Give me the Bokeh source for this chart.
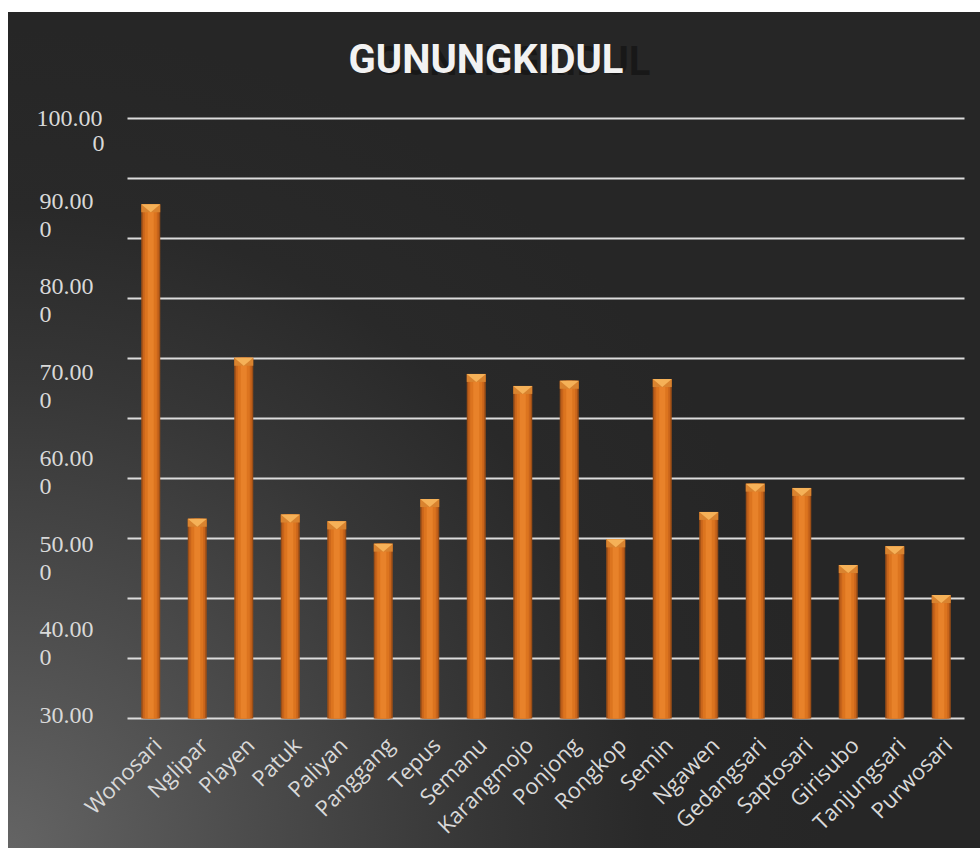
import numpy as np
from bokeh.plotting import figure
from bokeh.models import Range1d, ColumnDataSource
from bokeh.core.properties import value
from bokeh.embed import file_html
from bokeh.resources import INLINE

# ---- data -----------------------------------------------------------
kecamatan = ["Wonosari", "Nglipar", "Playen", "Patuk", "Paliyan", "Panggang",
             "Tepus", "Semanu", "Karangmojo", "Ponjong", "Rongkop", "Semin",
             "Ngawen", "Gedangsari", "Saptosari", "Girisubo", "Tanjungsari",
             "Purwosari"]
nilai = [90.0, 53.3, 72.1, 53.8, 53.0, 50.4, 55.6, 70.2, 68.8, 69.4, 50.9,
         69.6, 54.1, 57.4, 56.9, 47.9, 50.1, 44.4]
y_label_values = [100, 90, 80, 70, 60, 50, 40, 30]
y_label_line1 = ["100.00", "90.00", "80.00", "70.00", "60.00", "50.00", "40.00", "30.00"]
y_label_line2 = ["0", "0", "0", "0", "0", "0", "0", ""]
grid_values = [30, 37, 44, 51, 58, 65, 72, 79, 86, 93, 100]
judul = "GUNUNGKIDUL"

# ---- geometry (page pixels of the plotting area) --------------------
W, H = 980, 848
PL, PR = 127, 964          # left / right edge of the plot area
PT, PB = 118, 718          # pixel rows of y=100 and y=30
n = len(kecamatan)
xs = np.arange(n)
px_x = (PR - PL) / n
px_y = (PB - PT) / 70.0

def dx(px):
    return px / px_x

def dy(px):
    return px / px_y

def page_x(px):
    return (px - PL) / px_x - 0.5

def page_y(py):
    return 30 + (PB - py) / px_y

p = figure(width=W, height=H, title=None,
           x_range=Range1d(page_x(0), page_x(W)), y_range=Range1d(page_y(H), page_y(0)),
           x_axis_location=None, y_axis_location=None,
           output_backend="svg", toolbar_location=None,
           min_border=0, min_border_left=0, min_border_right=0,
           min_border_top=0, min_border_bottom=0)
p.background_fill_alpha = 0
p.border_fill_alpha = 0
p.outline_line_color = None
p.xgrid.visible = False
p.ygrid.visible = False
p.styles = {
    "background-color": "#ffffff",
    "background-image": "radial-gradient(circle at 0% 100%, #646464 0px, #4c4c4c 240px, "
                        "#363636 470px, #292929 640px, #262626 820px)",
    "background-position": "8px 12px",
    "background-size": "972px 836px",
    "background-repeat": "no-repeat",
}

# gridlines
p.segment(x0=-0.5, x1=n - 0.5, y0=grid_values, y1=grid_values,
          line_color="#dcdcdc", line_width=2)

# bars (layered to imitate the bevelled orange columns)
src = ColumnDataSource(dict(x=xs, top=nilai))
base = 30
p.vbar(x="x", top="top", bottom=base, width=dx(19), source=src,
       fill_color="#9c4e16", line_color=None)
p.vbar(x="x", top="top", bottom=base, width=dx(16), source=src,
       fill_color="#c8641b", line_color=None)
p.vbar(x="x", top="top", bottom=base, width=dx(12), source=src,
       fill_color="#dc741f", line_color=None)
p.vbar(x="x", top="top", bottom=base, width=dx(6), source=src,
       fill_color="#e8822a", line_color=None)

# top bevel
hw = dx(19) / 2
tri_x = [[x - hw, x + hw, x] for x in xs]
tri_y = [[t, t, t - dy(8)] for t in nilai]
band_x = [[x - hw, x + hw, x + hw, x - hw] for x in xs]
band_y = [[t, t, t - dy(8), t - dy(8)] for t in nilai]
p.patches(band_x, band_y, fill_color="#d9832f", line_color=None)
p.patches(tri_x, tri_y, fill_color="#f5b158", line_color=None)

# category labels (rotated)
p.text(x=xs + dx(6), y=page_y(740), text=kecamatan, angle=np.pi / 4,
       text_align="right", text_baseline="middle",
       text_font=value("Open Sans"), text_font_size="22px", text_color="#d9d9d9")

# y labels (two-line wrapped as in the reference)
l1x = [page_x(36) if v == 100 else page_x(39) for v in y_label_values]
l1y = [v if v == 100 else v + dy(3) for v in y_label_values]
l2x = [page_x(104) if v == 100 else page_x(39) for v in y_label_values]
l2y = [v - dy(25) if v == 100 else v + dy(3) - dy(28) for v in y_label_values]
l2a = ["right" if v == 100 else "left" for v in y_label_values]
p.text(x=l1x, y=l1y, text=y_label_line1, text_align="left",
       text_baseline="middle", text_font=value("Liberation Serif"),
       text_font_size="24px", text_color="#d9d9d9")
p.text(x=l2x, y=l2y, text=y_label_line2,
       text_align=l2a, text_baseline="middle", text_font=value("Liberation Serif"),
       text_font_size="24px", text_color="#d9d9d9")

# title with shadow
tx = page_x(485.5)
ty = page_y(58.5)
p.text(x=[tx], y=[ty], text=[judul], text_align="center", text_baseline="middle",
       text_font=value("Roboto"), text_font_style="bold", text_font_size="40px",
       text_color="#161616", text_alpha=0.85, x_offset=27, y_offset=2)
p.text(x=[tx], y=[ty], text=[judul], text_align="center", text_baseline="middle",
       text_font=value("Roboto"), text_font_style="bold", text_font_size="40px",
       text_color="#f2f2f2")

open("out.html", "w").write(file_html(p, INLINE))
